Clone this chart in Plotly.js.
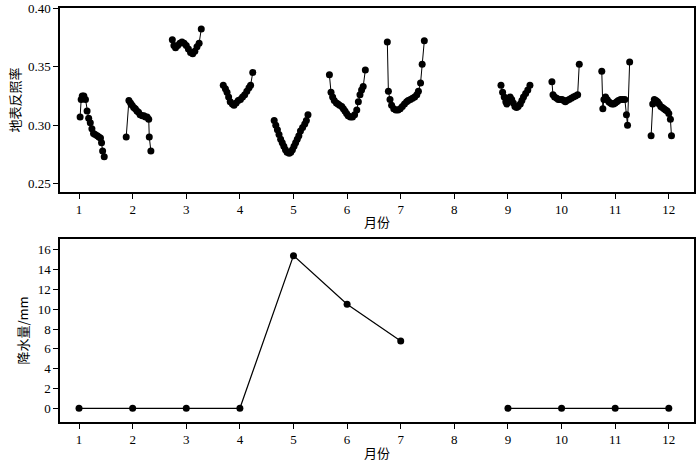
<!DOCTYPE html>
<html>
<head>
<meta charset="utf-8">
<script src="https://cdn.plot.ly/plotly-3.0.1.min.js"></script>
<style>html,body{margin:0;padding:0;background:#fff;}#chart{width:700px;height:463px;}</style>
</head>
<body>
<div id="chart"></div>
<script>
// Surface albedo, one array pair per month cluster (x in fractional months)
const albedoX1 = [1.02,1.04,1.06,1.09,1.12,1.15,1.18,1.21,1.24,1.27,1.30,1.34,1.37,1.40,1.42,1.44,1.47];
const albedoY1 = [0.307,0.322,0.325,0.325,0.322,0.312,0.306,0.302,0.297,0.293,0.292,0.291,0.290,0.289,0.285,0.278,0.273];
const albedoX2 = [1.88,1.93,1.96,1.99,2.02,2.05,2.08,2.11,2.14,2.18,2.21,2.24,2.27,2.30,2.31,2.34];
const albedoY2 = [0.290,0.321,0.319,0.317,0.315,0.314,0.312,0.311,0.309,0.308,0.308,0.307,0.307,0.305,0.290,0.278];
const albedoX3 = [2.74,2.77,2.80,2.84,2.88,2.92,2.96,3.00,3.04,3.08,3.12,3.16,3.20,3.24,3.28];
const albedoY3 = [0.373,0.368,0.366,0.368,0.370,0.371,0.370,0.368,0.365,0.362,0.361,0.363,0.367,0.370,0.382];
const albedoX4 = [3.69,3.73,3.76,3.79,3.82,3.86,3.89,3.93,3.97,4.01,4.05,4.09,4.13,4.17,4.20,4.24];
const albedoY4 = [0.334,0.331,0.328,0.324,0.320,0.318,0.317,0.319,0.321,0.322,0.324,0.326,0.329,0.332,0.334,0.345];
const albedoX5 = [4.64,4.67,4.70,4.73,4.76,4.79,4.82,4.85,4.88,4.92,4.95,4.98,5.01,5.04,5.07,5.10,5.13,5.17,5.21,5.24,5.27];
const albedoY5 = [0.304,0.300,0.296,0.292,0.288,0.285,0.282,0.279,0.277,0.276,0.277,0.279,0.282,0.285,0.288,0.291,0.295,0.298,0.301,0.304,0.309];
const albedoX6 = [5.67,5.70,5.73,5.76,5.80,5.83,5.86,5.90,5.93,5.96,5.99,6.02,6.06,6.10,6.14,6.18,6.21,6.24,6.27,6.30,6.34];
const albedoY6 = [0.343,0.328,0.324,0.321,0.319,0.318,0.317,0.316,0.314,0.312,0.310,0.308,0.307,0.307,0.309,0.313,0.320,0.326,0.330,0.333,0.347];
const albedoX7 = [6.75,6.77,6.80,6.83,6.87,6.91,6.95,6.99,7.03,7.07,7.11,7.14,7.18,7.22,7.26,7.30,7.33,7.37,7.40,7.44];
const albedoY7 = [0.371,0.329,0.322,0.317,0.314,0.313,0.313,0.314,0.316,0.318,0.320,0.321,0.322,0.323,0.324,0.326,0.329,0.336,0.352,0.372];
const albedoX9 = [8.87,8.90,8.93,8.96,8.98,9.01,9.04,9.07,9.10,9.13,9.16,9.19,9.23,9.26,9.29,9.33,9.37,9.41];
const albedoY9 = [0.334,0.328,0.324,0.320,0.318,0.322,0.324,0.322,0.319,0.316,0.315,0.316,0.318,0.321,0.324,0.327,0.330,0.334];
const albedoX10 = [9.82,9.84,9.87,9.91,9.94,9.97,10.01,10.04,10.07,10.10,10.14,10.18,10.22,10.26,10.30,10.33];
const albedoY10 = [0.337,0.326,0.324,0.323,0.322,0.322,0.322,0.321,0.320,0.321,0.322,0.323,0.324,0.325,0.326,0.352];
const albedoX11 = [10.75,10.77,10.79,10.82,10.85,10.88,10.91,10.94,10.97,11.00,11.03,11.06,11.10,11.14,11.18,11.21,11.23,11.27];
const albedoY11 = [0.346,0.314,0.322,0.324,0.322,0.320,0.319,0.318,0.318,0.319,0.320,0.321,0.322,0.322,0.322,0.309,0.300,0.354];
const albedoX12 = [11.67,11.70,11.73,11.76,11.79,11.82,11.85,11.88,11.91,11.94,11.97,12.00,12.03,12.05];
const albedoY12 = [0.291,0.318,0.322,0.321,0.320,0.318,0.316,0.315,0.314,0.313,0.312,0.310,0.305,0.291];

// Precipitation (mm) by month
const months = [1,2,3,4,5,6,7,8,9,10,11,12];
const precip = [0,0,0,0,15.4,10.5,6.8,null,0,0,0,0];

const monthTicks = [1,2,3,4,5,6,7,8,9,10,11,12];
const albedoTicks = [0.25,0.30,0.35,0.40];
const precipTicks = [0,2,4,6,8,10,12,14,16];

const clustersX = [albedoX1,albedoX2,albedoX3,albedoX4,albedoX5,albedoX6,albedoX7,albedoX9,albedoX10,albedoX11,albedoX12];
const clustersY = [albedoY1,albedoY2,albedoY3,albedoY4,albedoY5,albedoY6,albedoY7,albedoY9,albedoY10,albedoY11,albedoY12];
let ax = [], ay = [];
clustersX.forEach((cx, i) => {
  if (i > 0) { ax.push(null); ay.push(null); }
  ax = ax.concat(cx); ay = ay.concat(clustersY[i]);
});

const tickFont = {family: '"Liberation Serif", "DejaVu Serif", serif', size: 13, color: '#000'};
const cjkFont = {family: '"Noto Sans CJK SC", sans-serif', size: 13, color: '#000'};

const traces = [
  {x: ax, y: ay, xaxis: 'x', yaxis: 'y', mode: 'lines+markers', connectgaps: false,
   line: {color: '#000', width: 1}, marker: {color: '#000', size: 7}, hoverinfo: 'x+y'},
  {x: months, y: precip, xaxis: 'x2', yaxis: 'y2', mode: 'lines+markers', connectgaps: false,
   line: {color: '#000', width: 1.2}, marker: {color: '#000', size: 7}}
];

const axisCommon = {
  showline: true, mirror: true, linecolor: '#000', linewidth: 1.6,
  ticks: 'outside', ticklen: 5, tickwidth: 1, tickcolor: '#000',
  showgrid: false, zeroline: false, tickfont: tickFont
};

const layout = {
  width: 700, height: 463,
  margin: {l: 60, r: 6, t: 8, b: 41},
  paper_bgcolor: '#fff', plot_bgcolor: '#fff',
  font: {family: '"Liberation Serif", serif', color: '#000'},
  showlegend: false,
  xaxis: Object.assign({}, axisCommon, {domain: [0,1], anchor: 'y', range: [0.645, 12.47],
    tickvals: monthTicks, title: {text: '月份', font: cjkFont, standoff: 2}}),
  yaxis: Object.assign({}, axisCommon, {domain: [0.5556, 1], anchor: 'x', range: [0.243, 0.40],
    tickvals: albedoTicks, tickformat: '.2f', title: {text: '地表反照率', font: cjkFont, standoff: 4}}),
  xaxis2: Object.assign({}, axisCommon, {domain: [0,1], anchor: 'y2', range: [0.645, 12.47],
    tickvals: monthTicks, title: {text: '月份', font: cjkFont, standoff: 2}}),
  yaxis2: Object.assign({}, axisCommon, {domain: [0, 0.442], anchor: 'x2', range: [-1.38, 17.08],
    tickvals: precipTicks, title: {text: '降水量/mm', font: cjkFont, standoff: 6}})
};

Plotly.newPlot('chart', traces, layout, {displayModeBar: false, staticPlot: true});
</script>
</body>
</html>
